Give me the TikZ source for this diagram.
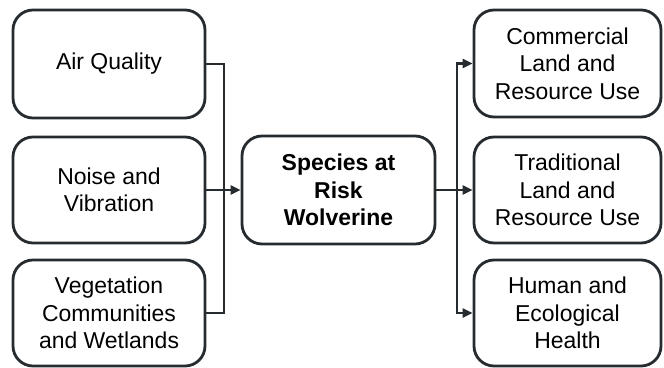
\documentclass[tikz,border=0pt]{standalone}
\usepackage{fontspec}
\setmainfont{Liberation Sans}
\usepackage{tikz}
\usetikzlibrary{arrows.meta}
\definecolor{edgegray}{HTML}{262B30}
\tikzset{
  vc/.style={draw=edgegray, line width=2.4pt, rounded corners=0.6cm, align=center,
    inner sep=0pt, font=\fontsize{19.6}{23.5}\selectfont},
  link/.style={draw=edgegray, line width=2.4pt},
  tip/.style={link, -{Triangle[length=0.3cm,width=0.27cm]}}
}
\begin{document}
\begin{tikzpicture}[x=0.03cm, y=-0.03cm]
\useasboundingbox (0,0) rectangle (664,368);

\node [vc, minimum width=5.76cm, minimum height=3.24cm] (air) at (109,64) {Air Quality};
\node [vc, minimum width=5.76cm, minimum height=3.18cm] (noise) at (109,190) {Noise and\\Vibration};
\node [vc, minimum width=5.76cm, minimum height=3.18cm] (veg) at (109,313) {Vegetation\\Communities\\and Wetlands};

\node [vc, minimum width=5.79cm, minimum height=3.24cm, font=\fontsize{19.6}{23.5}\selectfont\bfseries] (sar) at (338.5,190) {Species at\\Risk\\Wolverine};

\node [vc, minimum width=5.61cm, minimum height=3.21cm] (comm) at (567.5,63.5) {Commercial\\Land and\\Resource Use};
\node [vc, minimum width=5.61cm, minimum height=3.18cm] (trad) at (567.5,190) {Traditional\\Land and\\Resource Use};
\node [vc, minimum width=5.61cm, minimum height=3.18cm] (health) at (567.5,313) {Human and\\Ecological\\Health};

\coordinate (jl) at (224,190);
\coordinate (jr) at (457,190);

\draw [link] (air.east) -| (jl) |- (veg.east);
\draw [tip] (noise.east) -- (sar.west);

\draw [link] (sar.east) -- (jr);
\draw [tip] (jr) |- (comm.west);
\draw [tip] (jr) -- (trad.west);
\draw [tip] (jr) |- (health.west);
\end{tikzpicture}
\end{document}
